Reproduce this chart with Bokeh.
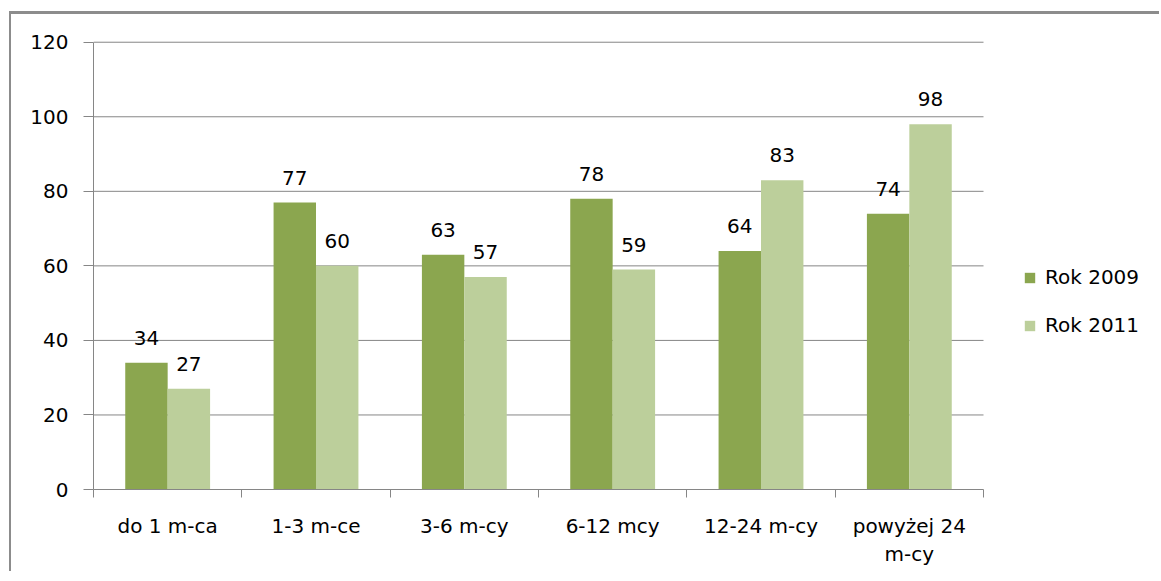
import numpy as np
from bokeh.plotting import figure
from bokeh.models import (ColumnDataSource, Range1d, FixedTicker, LabelSet,
                          Legend, LegendItem)
from bokeh.core.properties import value
from bokeh.embed import file_html
from bokeh.resources import INLINE

# ---- data ----
categories = ["do 1 m-ca", "1-3 m-ce", "3-6 m-cy", "6-12 mcy", "12-24 m-cy", "powyżej 24\nm-cy"]
rok2009 = [34, 77, 63, 78, 64, 74]
rok2011 = [27, 60, 57, 59, 83, 98]
series_names = ["Rok 2009", "Rok 2011"]
y_ticks = [0, 20, 40, 60, 80, 100, 120]

# ---- style ----
FONT = "DejaVu Sans"
FS = "20px"
GRAY = "#868686"
C2009 = "#8ba64f"
C2011 = "#bccf9b"
BAR_W = 0.286

n = len(categories)
centers = [i + 0.5 for i in range(n)]
bounds = list(range(n + 1))
y_max = y_ticks[-1]

# plot-area geometry (pixels): data area 890 px wide, frame extends to canvas edge
W, H = 1150, 560
LEFT, TOP, BOTTOM = 82, 24, 85
DATA_W = 890
frame_w = W - LEFT
x_end = n * frame_w / DATA_W

src09 = ColumnDataSource(dict(x=[c - BAR_W / 2 for c in centers], y=rok2009,
                              lab=[str(v) for v in rok2009]))
src11 = ColumnDataSource(dict(x=[c + BAR_W / 2 for c in centers], y=rok2011,
                              lab=[str(v) for v in rok2011]))
grid_src = ColumnDataSource(dict(y=y_ticks[1:], x0=[0] * (len(y_ticks) - 1),
                                 x1=[n] * (len(y_ticks) - 1)))

p = figure(width=W, height=H, output_backend="svg", toolbar_location=None,
           x_range=Range1d(0, x_end), y_range=Range1d(0, y_max + 1))
p.min_border_left = LEFT
p.min_border_top = TOP
p.min_border_bottom = BOTTOM
p.min_border_right = 0
p.outline_line_color = None
p.background_fill_color = "white"
p.border_fill_color = "white"
p.margin = (11, 0, 0, 9)
p.styles = {"border-left": "2px solid #8c8c8c", "border-top": "3px solid #8c8c8c"}

# horizontal gridlines limited to the data area
p.segment(x0="x0", x1="x1", y0="y", y1="y", source=grid_src,
          line_color=GRAY, line_width=1, level="underlay")

r09 = p.vbar(x="x", top="y", width=BAR_W, source=src09, fill_color=C2009, line_color=None)
r11 = p.vbar(x="x", top="y", width=BAR_W, source=src11, fill_color=C2011, line_color=None)

for s in (src09, src11):
    p.add_layout(LabelSet(x="x", y="y", text="lab", source=s, text_align="center",
                          text_baseline="alphabetic", y_offset=18,
                          text_font=value(FONT), text_font_size=value(FS),
                          text_color="black"))

# y axis
ya = p.yaxis[0]
ya.bounds = (0, y_max)
ya.ticker = FixedTicker(ticks=y_ticks)
ya.axis_line_color = GRAY
ya.major_tick_line_color = GRAY
ya.major_tick_out = 10
ya.major_tick_in = 0
ya.minor_tick_line_color = None
ya.major_label_standoff = 15
ya.major_label_text_font = FONT
ya.major_label_text_font_size = FS
ya.major_label_text_color = "black"

# x axis
xa = p.xaxis[0]
xa.bounds = (0, n)
xa.ticker = FixedTicker(ticks=centers, minor_ticks=bounds)
xa.major_label_overrides = {c: lab for c, lab in zip(centers, categories)}
xa.axis_line_color = GRAY
xa.major_tick_line_color = None
xa.major_tick_out = 0
xa.major_tick_in = 0
xa.minor_tick_line_color = GRAY
xa.minor_tick_out = 8
xa.minor_tick_in = 0
xa.major_label_standoff = 16
xa.major_label_text_font = FONT
xa.major_label_text_font_size = FS
xa.major_label_text_color = "black"
xa.major_label_text_line_height = 1.2

p.xgrid.grid_line_color = None
p.ygrid.grid_line_color = None

# legend
lg = Legend(items=[LegendItem(label=series_names[0], renderers=[r09]),
                   LegendItem(label=series_names[1], renderers=[r11])])
lg.location = (930, 152)
lg.border_line_color = None
lg.background_fill_alpha = 0
lg.glyph_width = 13
lg.glyph_height = 13
lg.label_standoff = 9
lg.label_text_font = FONT
lg.label_text_font_size = FS
lg.label_text_color = "black"
lg.spacing = 24
lg.padding = 10
p.add_layout(lg)

open("out.html", "w").write(file_html(p, INLINE))
